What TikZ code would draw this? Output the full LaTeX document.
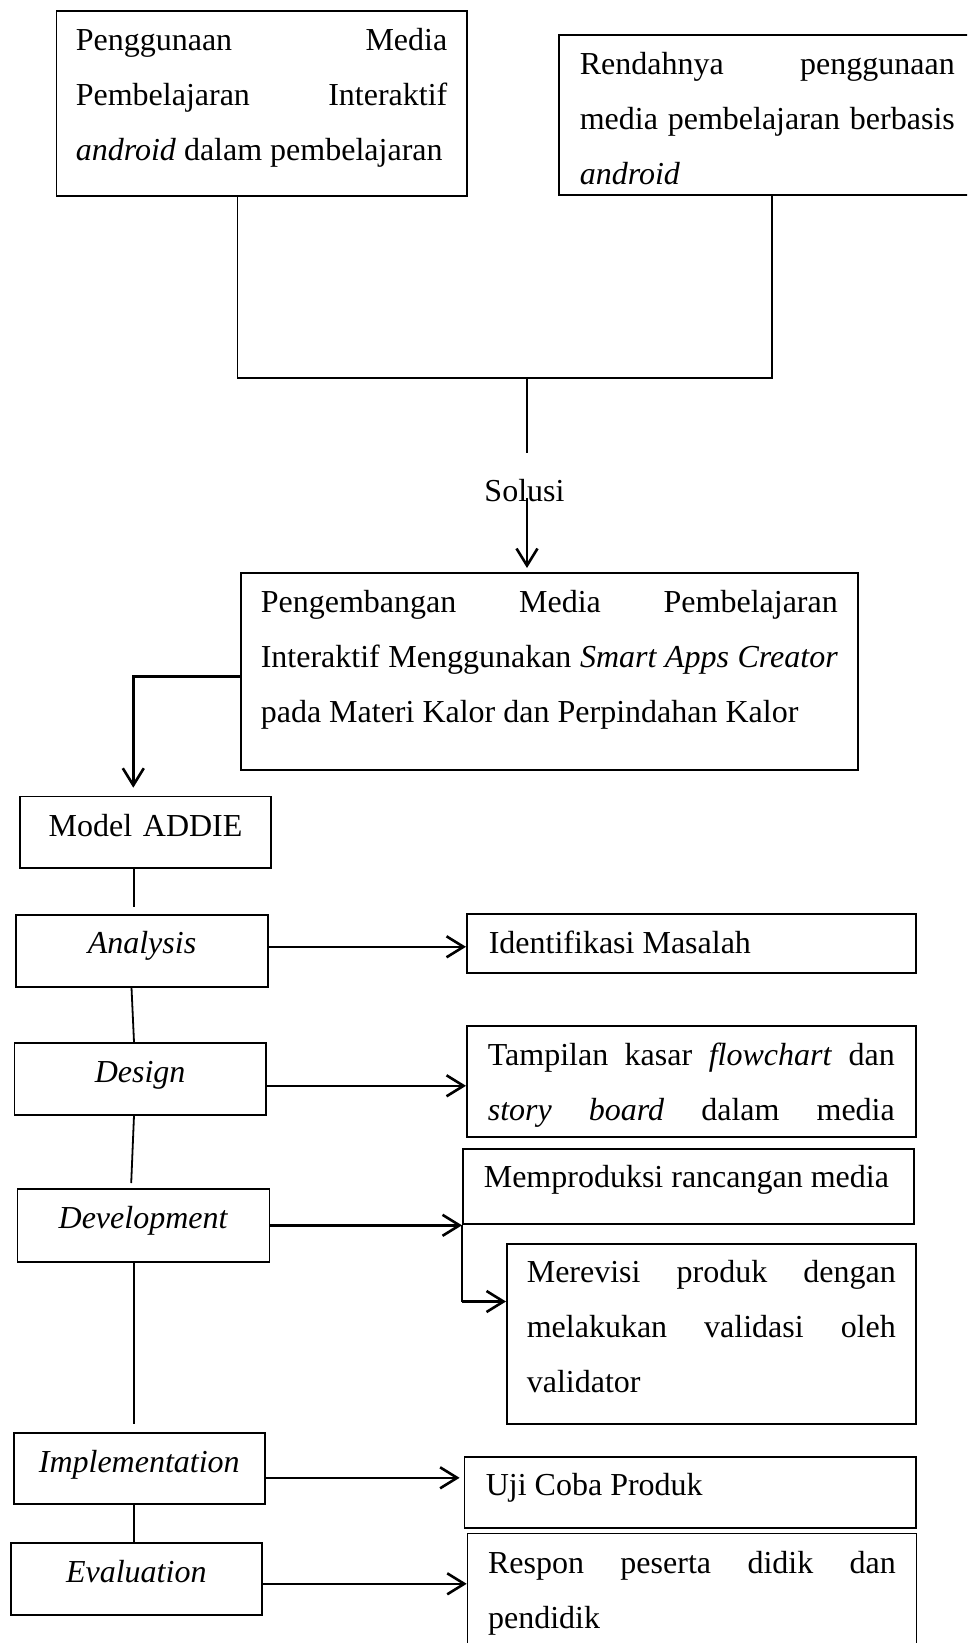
\documentclass[tikz,border=0pt]{standalone}
\usepackage{fontspec}
\setmainfont{Liberation Serif}
\usetikzlibrary{arrows.meta, calc}

\newcommand{\teksbesar}{\fontsize{32}{55}\selectfont}
\newcommand{\penuh}{\parfillskip=0pt\par}

\begin{document}
\begin{tikzpicture}[
  x=1pt, y=-1pt,
  kotak/.style={
    draw, rectangle, line width=1.6pt, anchor=north west,
    inner ysep=0pt, inner xsep=20pt, align=justify, font=\teksbesar,
    execute at begin node={\tolerance=10000\hyphenpenalty=10000\hbadness=10000}
  },
  tahap/.style={kotak, align=center, inner xsep=5pt},
  garis/.style={line width=1.8pt},
  panah/.style={line width=2.6pt, -{Straight Barb[length=17pt, width=21pt]}}
]
\useasboundingbox (0,0) rectangle (967,1643);
\clip (0,0) rectangle (967,1643);

% ============================================================
% Two problem boxes on top, joined into the solution
\node[kotak, text width=371.5pt, inner xsep=19.5pt, text height=40pt, text depth=145pt] (guna) at (55.5,10)
  {Penggunaan Media\linebreak Pembelajaran Interaktif\linebreak \textit{android} dalam pembelajaran};
\node[kotak, text width=375pt, inner xsep=21pt, text height=40pt, text depth=120pt] (rendah) at (558,34)
  {Rendahnya penggunaan\linebreak media pembelajaran berbasis\linebreak \textit{android}};

\coordinate (kiri) at (237.5,378);
\coordinate (kanan) at (772,378);
\coordinate (tengah) at (527,378);
\coordinate (putus) at (527,453);
\coordinate (mulai) at (527,498);

\draw[garis] (kiri |- guna.south) -- (kiri) -- (kanan) -- (kanan |- rendah.south);
\draw[garis] (tengah) -- (putus);

\node[font=\teksbesar, anchor=base, inner sep=0pt] (sol) at (524.5,501.7) {Solusi};

\node[kotak, text width=577pt, text height=40pt, text depth=157pt] (kembang) at (240,572)
  {Pengembangan Media Pembelajaran\linebreak Interaktif Menggunakan \textit{Smart Apps Creator}\linebreak pada Materi Kalor dan Perpindahan Kalor};

\draw[panah, shorten >=4pt] (mulai) -- (mulai |- kembang.north);

% ============================================================
% ADDIE column on the left
\node[tahap, text width=241pt, text height=40pt, text depth=31.6pt] (addie) at (19.3,795.7) {Model ADDIE};
\node[tahap, text width=241.6pt, text height=39pt, text depth=33pt] (analysis) at (15.4,914) {\textit{Analysis}};
\node[tahap, text width=241.4pt, text height=39.7pt, text depth=32.3pt] (design) at (13.6,1042) {\textit{Design}};
\node[tahap, text width=241.8pt, text height=39.5pt, text depth=33.5pt] (dev) at (16.7,1188) {\textit{Development}};
\node[tahap, text width=241pt, text height=39.7pt, text depth=31.3pt] (impl) at (13,1432) {\textit{Implementation}};
\node[tahap, text width=241pt, text height=39.7pt, text depth=32.3pt] (eval) at (10,1542) {\textit{Evaluation}};

\coordinate (belok) at (133.3,676.7);
\coordinate (sumbu) at (134,0);

\draw[panah, shorten >=8pt] (belok -| kembang.west) -- (belok) -- (belok |- addie.north);

\draw[garis, shorten >=7pt] (addie.south -| sumbu) -- (analysis.north -| sumbu);
\draw[garis] ($(analysis.south -| sumbu)+(-2.5,0)$) -- (design.north -| sumbu);
\draw[garis, shorten >=5pt] (design.south -| sumbu) -- ($(dev.north -| sumbu)+(-3,0)$);
\draw[garis, shorten >=8pt] (dev.south -| sumbu) -- (impl.north -| sumbu);
\draw[garis] (impl.south -| sumbu) -- (eval.north -| sumbu);

% ============================================================
% Results of each stage on the right
\node[kotak, text width=405pt, inner xsep=22pt, text height=39.7pt, text depth=19.3pt] (identifikasi) at (466,913)
  {Identifikasi Masalah};
\node[kotak, text width=407pt, inner xsep=21pt, text height=40pt, text depth=71pt] (tampilan) at (466,1025)
  {Tampilan kasar \textit{flowchart} dan\linebreak \textit{story board} dalam media\penuh};
\node[kotak, text width=409pt, inner xsep=21pt, text height=38.7pt, text depth=36.3pt] (produksi) at (462,1148)
  {Memproduksi rancangan media};
\node[kotak, text width=369pt, text height=38.7pt, text depth=141.3pt] (revisi) at (506,1243)
  {Merevisi produk dengan\linebreak melakukan validasi oleh\linebreak validator};
\node[kotak, text width=408.6pt, inner xsep=21.4pt, text height=39pt, text depth=32pt] (uji) at (463.6,1456)
  {Uji Coba Produk};
\node[kotak, text width=407.8pt, inner xsep=20.6pt, text height=40pt, text depth=130pt] (respon) at (466.7,1532.7)
  {Respon peserta didik dan\linebreak pendidik};

\draw[panah] ($(analysis.east)+(0,-4)$) -- ($(analysis.east -| identifikasi.west)+(0,-4)$);
\draw[panah] ($(design.east)+(0,7)$) -- ($(design.east -| tampilan.west)+(0,7)$);
\draw[panah] (dev.east) -- (dev.east -| produksi.south west);

\coordinate (tuju) at ($(revisi.west)+(0,-32.3)$);
\draw[garis] (produksi.south west) -- (produksi.south west |- tuju);
\draw[panah] (produksi.south west |- tuju) -- (tuju);

\draw[panah, shorten >=4pt] ($(impl.east)+(0,9.5)$) -- ($(impl.east -| uji.west)+(0,9.5)$);
\draw[panah] ($(eval.east)+(0,5)$) -- ($(eval.east -| respon.west)+(0,5)$);

\end{tikzpicture}
\end{document}
